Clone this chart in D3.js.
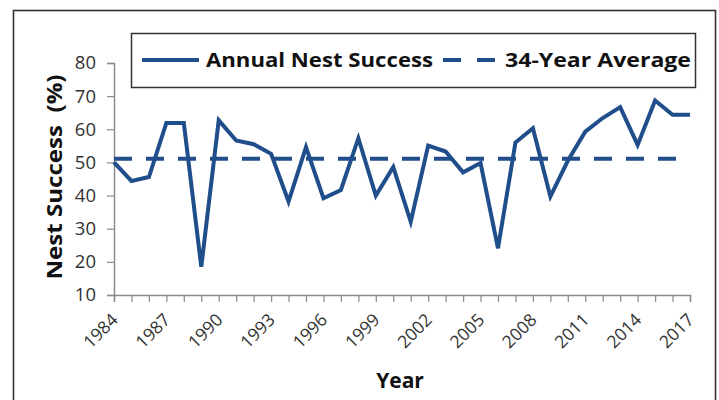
<!DOCTYPE html>
<html><head><meta charset="utf-8">
<script src="https://cdn.jsdelivr.net/npm/d3@7"></script>
<style>body{margin:0;background:#fff}</style>
</head><body>
<svg id="c" width="719" height="400"></svg>
<script>
const years = d3.range(1984, 2018);
const nestSuccess = [50.0,44.4,45.6,61.9,61.9,18.5,62.7,56.6,55.5,52.6,38.2,54.6,39.2,41.7,57.3,40.0,48.6,32.1,55.1,53.3,47.0,49.8,24.1,56.0,60.3,39.7,50.5,59.3,63.4,66.7,55.3,68.7,64.4,64.4];
const average = 51.1;
const yTicks = [10,20,30,40,50,60,70,80];
const xTickYears = [1984,1987,1990,1993,1996,1999,2002,2005,2008,2011,2014,2017];
const seriesNames = ["Annual Nest Success", "34-Year Average"];

const color = "#1f4e8a";
const svg = d3.select("#c");
svg.append("rect").attr("x",13.5).attr("y",10.5).attr("width",702).attr("height",400).attr("fill","none").attr("stroke","#333").attr("stroke-width",1.6);

const x = d3.scaleLinear().domain([1984,2017]).range([114,690]);
const y = d3.scaleLinear().domain([10,80]).range([295,63]);

const axisColor = "#8a8a8a";
// y axis
const ya = svg.append("g").attr("transform","translate(114,0)")
  .call(d3.axisLeft(y).tickValues(yTicks).tickSize(7).tickPadding(11));
ya.select(".domain").attr("stroke",axisColor).attr("stroke-width",1.5);
ya.selectAll(".tick line").attr("stroke",axisColor).attr("stroke-width",1.2);
ya.selectAll("text").attr("font-family","'Open Sans'").attr("font-size",18.5).attr("fill","#333");

// x axis
const xa = svg.append("g").attr("transform","translate(0,295)")
  .call(d3.axisBottom(x).tickValues(years).tickSize(7).tickFormat(""));
xa.select(".domain").attr("stroke",axisColor).attr("stroke-width",1.5);
xa.selectAll(".tick line").attr("stroke",axisColor).attr("stroke-width",1.2);
svg.append("g").selectAll("text").data(xTickYears).join("text")
  .attr("transform",d=>`translate(${x(d)+5},${321}) rotate(-45)`)
  .attr("text-anchor","end").attr("font-family","'Open Sans'").attr("font-size",17.5).attr("fill","#333")
  .text(d=>d);

// average
svg.append("line").attr("x1",x(1984)).attr("x2",x(2017)).attr("y1",y(average)).attr("y2",y(average))
  .attr("stroke",color).attr("stroke-width",4).attr("stroke-dasharray","18,14");
// series
svg.append("path").datum(years.map((yr,i)=>[yr,nestSuccess[i]]))
  .attr("d",d3.line().x(d=>x(d[0])).y(d=>y(d[1])))
  .attr("fill","none").attr("stroke",color).attr("stroke-width",4).attr("stroke-linejoin","miter");

// axis titles
svg.append("text").attr("transform","translate(62,177) rotate(-90)").attr("text-anchor","middle")
  .attr("font-family","'Open Sans'").attr("font-weight","bold").attr("font-size",21).attr("fill","#111")
  .attr("textLength",205).attr("lengthAdjust","spacingAndGlyphs")
  .attr("xml:space","preserve").style("white-space","pre").text("Nest Success  (%)");
svg.append("text").attr("x",400).attr("y",388).attr("text-anchor","middle")
  .attr("font-family","'Open Sans'").attr("font-weight","bold").attr("font-size",21).attr("fill","#111").text("Year");

// legend
const lg = svg.append("g");
lg.append("rect").attr("x",131.5).attr("y",33.5).attr("width",564).attr("height",54).attr("fill","#fff").attr("stroke","#333").attr("stroke-width",1.5);
lg.append("line").attr("x1",142).attr("x2",199).attr("y1",60).attr("y2",60).attr("stroke",color).attr("stroke-width",4);
lg.append("text").attr("x",206).attr("y",67).attr("font-family","'Open Sans'").attr("font-weight","bold").attr("font-size",20).attr("fill","#111")
  .attr("textLength",227).attr("lengthAdjust","spacingAndGlyphs").text(seriesNames[0]);
lg.append("line").attr("x1",443).attr("x2",495).attr("y1",60).attr("y2",60).attr("stroke",color).attr("stroke-width",4).attr("stroke-dasharray","18,16");
lg.append("text").attr("x",505).attr("y",67).attr("font-family","'Open Sans'").attr("font-weight","bold").attr("font-size",20).attr("fill","#111")
  .attr("textLength",186).attr("lengthAdjust","spacingAndGlyphs").text(seriesNames[1]);
</script>
</body></html>
